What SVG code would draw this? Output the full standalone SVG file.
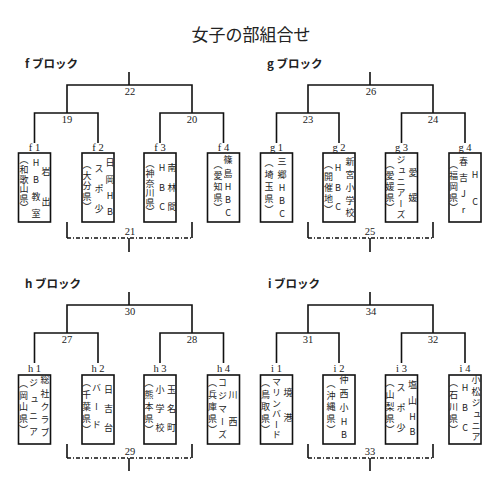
<svg xmlns="http://www.w3.org/2000/svg" width="500" height="500" viewBox="0 0 500 500">
<style>
.bg{fill:#fff}
.ln{fill:none;stroke:#111;stroke-width:1.6}
.dd{fill:none;stroke:#111;stroke-width:1.4;stroke-dasharray:4 2 1 2}
.box{fill:#fff;stroke:#111;stroke-width:1.6}
.v{font-family:"Noto Sans CJK JP","Noto Sans CJK SC",sans-serif;font-size:9px;writing-mode:vertical-rl;text-orientation:upright;fill:#222}
.num{font-family:"Liberation Serif",serif;font-size:10.5px;text-anchor:middle;fill:#222}
.lab{font-family:"Liberation Serif",serif;font-size:10.5px;text-anchor:middle;fill:#222}
.hd{font-family:"Noto Sans CJK JP",sans-serif;font-size:11.5px;font-weight:bold;fill:#222}
.title{font-family:"Noto Sans CJK JP",sans-serif;font-size:17px;text-anchor:middle;fill:#222}
</style>
<rect class="bg" x="0" y="0" width="500" height="500"/>
<text class="title" x="251" y="41">女子の部組合せ</text>
<g id="headers">
<text class="hd" x="25" y="68">f ブロック</text>
<text class="hd" x="267" y="68">g ブロック</text>
<text class="hd" x="25" y="288">h ブロック</text>
<text class="hd" x="268" y="288">i ブロック</text>
</g>
<g id="connectors">
<path class="ln" d="M129 72V85M67 113V85H192V113M34.5 143V113H98V143M160 143V113H223.5V143"/>
<path class="ln" d="M67 222V238M192 222V238M129 238V252"/>
<path class="dd" d="M67 238H192"/>
<path class="ln" d="M370 72V85M308 113V85H433V113M276.5 143V113H339V143M401.5 143V113H465V143"/>
<path class="ln" d="M308 222V238M433 222V238M370 238V252"/>
<path class="dd" d="M308 238H433"/>
<path class="ln" d="M129 292V305M67 333V305H192V333M34.5 363V333H98V363M160 363V333H223.5V363"/>
<path class="ln" d="M67 444V458M192 444V458M129 458V471"/>
<path class="dd" d="M67 458H192"/>
<path class="ln" d="M370 292V305M308 333V305H433V333M276.5 363V333H339V363M401.5 363V333H465V363"/>
<path class="ln" d="M308 444V458M433 444V458M370 458V471"/>
<path class="dd" d="M308 458H433"/>
<text class="num" x="130" y="95">22</text>
<text class="num" x="67" y="123">19</text>
<text class="num" x="192" y="123">20</text>
<text class="num" x="130" y="235">21</text>
<text class="num" x="371" y="95">26</text>
<text class="num" x="308" y="123">23</text>
<text class="num" x="433" y="123">24</text>
<text class="num" x="370" y="235">25</text>
<text class="num" x="130" y="315">30</text>
<text class="num" x="67" y="343">27</text>
<text class="num" x="192" y="343">28</text>
<text class="num" x="130" y="455">29</text>
<text class="num" x="371" y="315">34</text>
<text class="num" x="308" y="343">31</text>
<text class="num" x="433" y="343">32</text>
<text class="num" x="370" y="455">33</text>
</g>
<g id="f1"><text class="lab" x="34.5" y="151">f 1</text><rect class="box" x="18.5" y="153" width="32" height="69"/>
<text class="v" x="24" y="155.5" letter-spacing="0.6">（和歌山県）</text>
<text class="v" x="36" y="158.5" letter-spacing="7.7">HB教室</text>
<text class="v" x="46" y="167.5" letter-spacing="21">岩出</text></g>
<g id="f2"><text class="lab" x="98" y="151">f 2</text><rect class="box" x="82" y="153" width="32" height="69"/>
<text class="v" x="87" y="160.5" letter-spacing="1.5">（大分県）</text>
<text class="v" x="99" y="164.5" letter-spacing="11">スポ少</text>
<text class="v" x="110" y="158.5" letter-spacing="7.3">日岡HB</text></g>
<g id="f3"><text class="lab" x="160" y="151">f 3</text><rect class="box" x="144" y="153" width="32" height="69"/>
<text class="v" x="150" y="159.5" letter-spacing="0.6">（神奈川県）</text>
<text class="v" x="162" y="163.5" letter-spacing="10.5">HBC</text>
<text class="v" x="172" y="163.5" letter-spacing="10.5">南林間</text></g>
<g id="f4"><text class="lab" x="223.5" y="151">f 4</text><rect class="box" x="207.5" y="153" width="32" height="69"/>
<text class="v" x="218" y="160.5" letter-spacing="1.75">（愛知県）</text>
<text class="v" x="228" y="155.5" letter-spacing="4.25">篠島HBC</text></g>
<g id="g1"><text class="lab" x="276.5" y="151">g 1</text><rect class="box" x="260.5" y="153" width="32" height="69"/>
<text class="v" x="269" y="158.5" letter-spacing="2.75">（埼玉県）</text>
<text class="v" x="282" y="157.5" letter-spacing="4">三郷HBC</text></g>
<g id="g2"><text class="lab" x="339" y="151">g 2</text><rect class="box" x="323" y="153" width="32" height="69"/>
<text class="v" x="328.5" y="160.5" letter-spacing="2.25">（開催地）</text>
<text class="v" x="338" y="163.5" letter-spacing="10.5">HBC</text>
<text class="v" x="350" y="157.5" letter-spacing="3.75">新宮小学校</text></g>
<g id="g3"><text class="lab" x="401.5" y="151">g 3</text><rect class="box" x="385.5" y="153" width="32" height="69"/>
<text class="v" x="390" y="160.5" letter-spacing="1.75">（愛媛県）</text>
<text class="v" x="401" y="155.5" letter-spacing="2">ジュニアーズ</text>
<text class="v" x="413" y="168.5" letter-spacing="16">愛媛</text></g>
<g id="g4"><text class="lab" x="465" y="151">g 4</text><rect class="box" x="449" y="153" width="32" height="69"/>
<text class="v" x="453.5" y="160.5" letter-spacing="1.75">（福岡県）</text>
<text class="v" x="463.5" y="157.5" letter-spacing="7">春吉Jr</text>
<text class="v" x="475" y="170.5" letter-spacing="18">HC</text></g>
<g id="h1"><text class="lab" x="34.5" y="372">h 1</text><rect class="box" x="18.5" y="375" width="32" height="69"/>
<text class="v" x="23.5" y="379.5" letter-spacing="2.5">（岡山県）</text>
<text class="v" x="33.5" y="378.5" letter-spacing="7.3">ジュニア</text>
<text class="v" x="45" y="375.5" letter-spacing="4.25">総社クラブ</text></g>
<g id="h2"><text class="lab" x="98" y="372">h 2</text><rect class="box" x="82" y="375" width="32" height="69"/>
<text class="v" x="86.5" y="378.5" letter-spacing="2.75">（千葉県）</text>
<text class="v" x="96.5" y="383.5" letter-spacing="9.5">バード</text>
<text class="v" x="108.5" y="385.5" letter-spacing="10">日吉台</text></g>
<g id="h3"><text class="lab" x="160" y="372">h 3</text><rect class="box" x="144" y="375" width="32" height="69"/>
<text class="v" x="149" y="378.5" letter-spacing="2.75">（熊本県）</text>
<text class="v" x="160" y="385.5" letter-spacing="10">小学校</text>
<text class="v" x="171.5" y="385.5" letter-spacing="10">玉名町</text></g>
<g id="h4"><text class="lab" x="223.5" y="372">h 4</text><rect class="box" x="207.5" y="375" width="32" height="69"/>
<text class="v" x="212.5" y="378.5" letter-spacing="2.75">（兵庫県）</text>
<text class="v" x="222.5" y="378.5" letter-spacing="4">コジマーズ</text>
<text class="v" x="233" y="390.5" letter-spacing="18">川西</text></g>
<g id="i1"><text class="lab" x="276.5" y="372">i 1</text><rect class="box" x="260.5" y="375" width="32" height="69"/>
<text class="v" x="265.5" y="378.5" letter-spacing="2.75">（鳥取県）</text>
<text class="v" x="276.5" y="377.5" letter-spacing="1.6">マリンバード</text>
<text class="v" x="288" y="388.5" letter-spacing="16">境港</text></g>
<g id="i2"><text class="lab" x="339" y="372">i 2</text><rect class="box" x="323" y="375" width="32" height="69"/>
<text class="v" x="331" y="379.5" letter-spacing="2.5">（沖縄県）</text>
<text class="v" x="344" y="375.5" letter-spacing="4.75">仲西小HB</text></g>
<g id="i3"><text class="lab" x="401.5" y="372">i 3</text><rect class="box" x="385.5" y="375" width="32" height="69"/>
<text class="v" x="390" y="378.5" letter-spacing="2.75">（山梨県）</text>
<text class="v" x="401" y="383.5" letter-spacing="11">スポ少</text>
<text class="v" x="412.5" y="380.5" letter-spacing="6.67">塩山HB</text></g>
<g id="i4"><text class="lab" x="465" y="372">i 4</text><rect class="box" x="449" y="375" width="32" height="69"/>
<text class="v" x="453.5" y="378.5" letter-spacing="2.75">（石川県）</text>
<text class="v" x="465" y="383.5" letter-spacing="11">HBC</text>
<text class="v" x="476" y="375.5" letter-spacing="2.4">小松ジュニア</text></g>
</svg>
